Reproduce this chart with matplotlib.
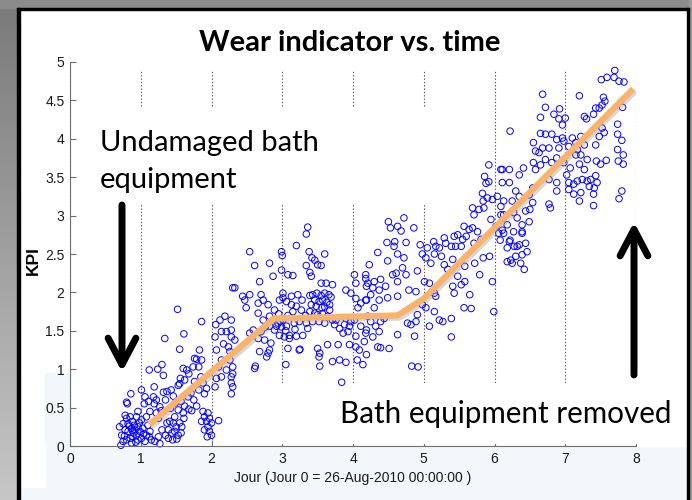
import numpy as np
import matplotlib
matplotlib.use('Agg')
import matplotlib.pyplot as plt
import matplotlib.transforms as mtransforms
import matplotlib.patheffects as pe
from matplotlib.patches import Rectangle
from matplotlib.colors import LinearSegmentedColormap

pts_start = [
    (0.72, 0.01), (0.73, 0.14), (0.70, 0.25), (0.75, 0.29), (0.80, 0.36), (0.85, 0.38),
    (0.88, 0.32), (0.78, 0.21), (0.82, 0.19), (0.87, 0.23), (0.92, 0.21), (0.96, 0.25),
    (0.99, 0.19), (0.94, 0.14), (0.89, 0.12), (0.85, 0.10), (0.80, 0.08), (0.87, 0.04),
    (1.01, 0.10), (1.06, 0.06), (1.08, 0.14), (1.03, 0.23), (1.10, 0.27), (1.01, 0.34),
    (0.94, 0.38), (0.96, 0.45), (0.78, 0.40), (1.08, 0.38), (1.13, 0.19), (1.15, 0.08),
    (0.91, 0.27), (0.96, 0.08), (0.82, 0.29), (0.75, 0.06), (0.90, 0.17), (0.84, 0.26),
    (0.98, 0.30), (1.04, 0.16), (0.93, 0.05), (0.77, 0.13), (1.12, 0.12), (0.88, 0.20),
    (0.86, 0.68), (0.81, 0.55), (0.80, 0.57),
]
pts_rise1 = [
    (1.06, 0.64), (1.11, 0.58), (1.05, 0.55), (1.18, 0.64), (1.19, 0.55), (1.22, 0.60),
    (1.32, 0.70), (1.37, 0.71), (1.35, 0.60), (1.27, 0.51), (1.29, 0.46), (1.13, 0.45),
    (1.22, 0.43), (1.19, 0.77), (1.01, 0.73), (1.25, 0.36),
    (1.37, 0.30), (1.41, 0.32), (1.46, 0.30), (1.50, 0.25), (1.55, 0.30), (1.58, 0.25),
    (1.39, 0.21), (1.44, 0.17), (1.48, 0.19), (1.53, 0.14), (1.57, 0.17), (1.39, 0.10),
    (1.45, 0.08), (1.51, 0.09), (1.35, 0.14), (1.30, 0.21), (1.25, 0.12), (1.20, 0.06),
    (1.27, 0.03), (1.61, 0.36), (1.48, 0.38),
    (1.46, 0.65), (1.49, 0.56), (1.42, 0.49), (1.53, 0.47), (1.57, 0.58), (1.62, 0.52),
    (1.60, 0.43), (1.68, 0.48), (1.72, 0.46), (1.79, 0.52), (1.75, 0.60), (1.67, 0.64),
    (1.71, 0.69), (1.82, 0.73), (1.88, 0.82), (1.85, 0.90), (1.76, 0.84), (1.60, 1.01),
    (1.65, 0.99), (1.56, 0.88), (1.62, 0.86), (1.55, 0.81), (1.53, 0.79), (1.68, 0.94),
    (1.74, 1.03), (1.79, 1.13), (1.86, 1.12), (1.82, 1.03), (1.76, 1.14), (1.83, 1.25),
    (1.55, 1.26), (1.61, 1.46), (1.34, 1.40), (1.52, 1.78), (1.86, 1.62), (1.12, 0.99),
    (1.24, 1.00), (1.30, 1.06), (1.32, 0.92), (1.43, 0.73), (1.93, 0.75), (1.90, 0.68),
    (1.88, 0.45), (1.95, 0.43), (1.90, 0.38), (1.97, 0.36), (1.93, 0.32), (2.00, 0.30),
    (1.95, 0.25), (1.90, 0.21), (1.97, 0.19), (2.00, 0.14), (1.94, 0.12), (2.10, 0.33),
    (1.86, 0.32),
    (2.30, 2.06), (2.19, 1.69), (2.28, 1.64), (2.12, 1.64), (2.06, 1.58), (2.14, 1.49),
    (2.21, 1.49), (2.28, 1.42), (2.05, 1.42), (2.17, 1.33), (2.24, 1.29), (2.07, 1.25),
    (2.14, 1.12), (2.26, 1.12), (2.21, 0.99), (2.28, 0.82), (2.14, 0.90), (2.10, 1.03),
    (2.07, 0.88), (2.05, 0.77), (2.30, 0.94), (2.28, 0.68),
]
pts_plateau = [
    (2.30, 1.03), (2.28, 0.90), (2.30, 0.77), (2.26, 1.23), (2.33, 1.38), (2.28, 1.51),
    (2.61, 1.01), (2.62, 1.04), (2.68, 1.23), (2.80, 1.21), (2.78, 1.16), (2.82, 1.25),
    (2.84, 1.34), (2.75, 1.38), (2.66, 1.40), (2.54, 1.47), (2.59, 1.51), (2.70, 1.49),
    (2.76, 1.55), (2.82, 1.56), (2.89, 1.51), (2.96, 1.44), (3.03, 1.42), (3.10, 1.40),
    (3.08, 1.27), (3.24, 1.25), (3.25, 1.26), (3.10, 1.44), (3.20, 1.43), (3.29, 1.44),
    (3.36, 1.53), (3.34, 1.60), (3.24, 1.62), (3.17, 1.60), (3.06, 1.56), (2.99, 1.55),
    (2.94, 1.60), (3.01, 1.64), (3.15, 1.75), (3.27, 1.77), (3.13, 1.84), (3.06, 1.88),
    (3.01, 1.99), (3.13, 1.95), (3.22, 1.97), (3.01, 1.93), (2.96, 1.90), (2.80, 1.84),
    (2.73, 1.90), (2.70, 1.97), (2.66, 1.86), (2.54, 1.97), (2.47, 1.90), (2.49, 1.80),
    (2.66, 1.73), (2.73, 1.64), (2.82, 1.69), (2.89, 1.77), (2.33, 2.06), (2.44, 1.95),
    (2.68, 2.14), (2.87, 2.21), (2.82, 2.38), (2.61, 2.35), (2.99, 2.29), (3.08, 2.23),
    (3.15, 2.22), (3.39, 2.26), (3.41, 2.21), (3.55, 2.12), (3.62, 2.12), (3.71, 2.10),
    (3.50, 2.36), (3.55, 2.35), (3.34, 2.35), (3.60, 2.50), (2.54, 2.53), (2.99, 2.53),
    (3.00, 2.48), (3.38, 2.53), (3.42, 2.45), (3.46, 2.42), (3.36, 2.85), (3.34, 2.76),
    (3.20, 2.61),
    (3.39, 1.96), (3.43, 1.97), (3.49, 1.99), (3.55, 1.96), (3.60, 1.99), (3.66, 1.97),
    (3.69, 1.94), (3.46, 1.90), (3.52, 1.88), (3.57, 1.90), (3.63, 1.87), (3.67, 1.84),
    (3.41, 1.84), (3.48, 1.82), (3.56, 1.80), (3.60, 1.81), (3.67, 1.77), (3.39, 1.75),
    (3.46, 1.73), (3.50, 1.71), (3.57, 1.72), (3.64, 1.69), (3.71, 1.64), (3.52, 1.62),
    (3.60, 1.60), (3.43, 1.62),
    (3.74, 1.58), (3.81, 1.53), (3.88, 1.58), (3.95, 1.56), (3.76, 1.64), (3.90, 1.66),
    (3.97, 1.62), (3.86, 1.47), (3.93, 1.49), (3.64, 1.32), (3.79, 1.32), (3.50, 1.27),
    (3.53, 1.21), (3.52, 1.16), (3.71, 1.10), (3.81, 1.12), (3.90, 1.09), (3.53, 1.04),
    (3.84, 0.83),
    (4.02, 2.23), (4.04, 2.12), (4.18, 2.18), (4.19, 2.08), (4.04, 1.92), (4.11, 1.86),
    (4.07, 1.80), (4.19, 1.90), (4.02, 1.64), (4.11, 1.56), (4.19, 1.51), (4.04, 1.43),
    (4.16, 1.36), (4.09, 1.25), (4.19, 1.19), (4.06, 1.12), (4.14, 1.06), (3.90, 2.03),
    (3.97, 1.99), (3.05, 1.06), (3.95, 1.32), (4.04, 1.29),
    (3.08, 1.70), (3.20, 1.82), (3.28, 1.90), (3.33, 1.70), (3.18, 1.52), (2.95, 1.72),
    (2.92, 1.56), (2.97, 1.62), (3.05, 1.50),
]
pts_rise2 = [
    (4.35, 2.52), (4.23, 2.36), (4.18, 2.23), (4.21, 2.12), (4.30, 2.14), (4.39, 2.17),
    (4.28, 2.06), (4.37, 2.03), (4.46, 2.08), (4.56, 2.23), (4.61, 2.25), (4.63, 2.14),
    (4.70, 2.32), (4.75, 2.23), (4.72, 2.45), (4.63, 2.50), (4.49, 2.41), (4.91, 2.28),
    (4.98, 2.50), (5.03, 2.45), (5.10, 2.38), (5.15, 2.50), (5.25, 2.47), (5.01, 2.14),
    (5.08, 2.12), (5.15, 1.99), (5.17, 1.95), (4.89, 2.01), (4.79, 2.03), (4.63, 1.95),
    (4.49, 1.93), (4.37, 1.90), (4.25, 1.97), (4.18, 1.90), (4.30, 1.80), (4.44, 1.66),
    (4.39, 1.62), (4.32, 1.56), (4.25, 1.62), (4.21, 1.69), (4.18, 1.47), (4.28, 1.42),
    (4.37, 1.49), (4.35, 1.29), (4.39, 1.28), (4.51, 1.27), (4.63, 1.45), (4.87, 1.43),
    (4.77, 1.60), (4.82, 1.58), (4.89, 1.62), (4.91, 1.71), (4.98, 1.84), (5.03, 1.80),
    (5.08, 1.56), (5.15, 1.75), (5.22, 1.64), (5.27, 1.62), (5.39, 1.66), (5.39, 1.42),
    (4.83, 1.04), (4.92, 1.03), (5.41, 2.08), (5.53, 2.10), (5.58, 2.14), (5.65, 1.97),
    (5.57, 1.80), (5.67, 1.79), (5.43, 1.99), (5.48, 2.21), (5.58, 2.34), (5.72, 2.38),
    (5.79, 2.23), (5.84, 2.45), (5.93, 2.47), (5.97, 2.14), (5.99, 1.75), (5.34, 2.30),
    (5.29, 2.36), (5.41, 2.43),
    (4.72, 2.97), (4.50, 2.92), (4.53, 2.84), (4.63, 2.86), (4.68, 2.80), (4.86, 2.84),
    (4.48, 2.65), (4.59, 2.66), (4.58, 2.60), (4.75, 2.65), (4.95, 2.62), (5.14, 2.66),
    (5.17, 2.60), (5.43, 2.73), (5.48, 2.75), (5.45, 2.60), (5.55, 2.69), (5.60, 2.73),
    (5.64, 2.82), (5.57, 2.86), (5.69, 2.84), (5.71, 3.01), (5.69, 3.10), (5.78, 3.08),
    (5.85, 3.10), (5.84, 3.19), (5.90, 3.23), (5.97, 3.21), (5.83, 3.29), (5.88, 3.42),
    (5.92, 3.44), (5.86, 3.51), (5.92, 3.66), (6.09, 3.60), (6.04, 3.25), (6.09, 3.12),
    (6.09, 3.01), (5.95, 2.95), (6.02, 2.86), (6.06, 2.77), (5.76, 2.79), (5.81, 2.69),
    (5.71, 2.64), (5.53, 2.60), (5.39, 2.60), (5.31, 2.64), (5.29, 2.71), (5.22, 2.58),
    (5.05, 2.58),
]
pts_end = [
    (7.70, 4.89), (7.59, 4.80), (7.51, 4.77), (7.69, 4.80), (7.76, 4.75), (7.83, 4.74),
    (6.68, 4.58), (7.20, 4.56), (7.54, 4.54), (7.56, 4.49), (7.52, 4.44), (7.81, 4.41),
    (6.72, 4.41), (6.92, 4.39), (6.84, 4.32), (6.65, 4.28), (6.91, 4.26), (6.96, 4.18),
    (7.00, 4.27), (7.27, 4.29), (7.30, 4.26), (7.40, 4.32), (7.48, 4.40), (7.43, 4.40),
    (6.22, 4.10), (6.65, 4.07), (6.72, 4.06), (6.81, 4.06), (6.55, 3.95), (6.68, 3.88),
    (6.58, 3.84), (6.63, 3.82), (6.77, 3.88), (6.88, 3.99), (6.96, 4.01), (7.10, 4.01),
    (7.15, 3.95), (7.22, 4.03), (7.27, 3.92), (7.17, 3.86), (7.48, 4.03), (7.52, 4.14),
    (7.55, 4.08), (7.43, 3.92), (7.74, 4.19), (7.74, 4.06), (7.80, 3.98), (7.74, 3.86),
    (7.82, 3.79), (7.75, 3.71), (7.82, 3.67), (7.80, 3.32), (7.76, 3.22), (6.98, 3.97),
    (6.91, 3.88), (7.05, 3.90), (7.15, 3.79), (7.22, 3.79), (7.31, 3.73), (7.44, 3.71),
    (7.50, 3.67), (7.58, 3.72), (7.20, 3.67), (7.27, 3.60), (7.07, 3.62), (6.98, 3.69),
    (6.88, 3.75), (6.81, 3.69), (6.72, 3.73), (6.55, 3.69), (6.41, 3.62), (6.35, 3.53),
    (6.21, 3.60), (6.11, 3.60), (6.21, 3.43), (6.11, 3.43), (6.30, 3.32), (6.35, 3.25),
    (6.25, 3.19), (6.13, 3.19), (6.54, 3.36), (6.49, 3.27), (6.54, 3.17), (6.44, 3.06),
    (6.50, 3.08), (6.77, 3.47), (6.88, 3.43), (7.02, 3.53), (7.05, 3.43), (7.12, 3.41),
    (7.17, 3.45), (7.24, 3.47), (7.31, 3.45), (7.36, 3.47), (7.43, 3.52), (7.34, 3.38),
    (7.41, 3.36), (7.45, 3.43), (7.05, 3.34), (7.12, 3.28), (7.20, 3.19), (7.22, 3.30),
    (7.40, 3.13), (7.40, 3.28), (6.88, 3.32), (6.79, 3.10), (6.77, 3.15), (6.65, 3.66),
    (6.58, 3.60), (6.27, 3.04), (6.39, 2.88), (6.32, 2.97), (6.18, 2.88), (6.27, 2.79),
    (6.39, 2.79), (6.49, 2.92), (6.22, 2.68), (6.32, 2.60), (6.44, 2.64), (6.18, 2.58),
    (6.13, 3.01), (6.11, 2.81), (6.08, 2.68),
    (6.13, 2.77), (6.21, 2.66), (6.28, 2.60), (6.35, 2.62), (6.46, 2.53), (6.39, 2.49),
    (6.30, 2.47), (6.23, 2.42), (6.18, 2.40), (6.37, 2.38), (6.42, 2.30), (6.25, 2.38),
    (6.39, 2.77),
]

# piecewise trend drawn on the slide
fit_day = [1.12, 2.88, 4.63, 5.00, 7.96]
fit_kpi = [0.28, 1.66, 1.70, 1.92, 4.65]

x_ticks = [0, 1, 2, 3, 4, 5, 6, 7, 8]
y_ticks = [0, 0.5, 1, 1.5, 2, 2.5, 3, 3.5, 4, 4.5, 5]

data = np.array(pts_start + pts_rise1 + pts_plateau + pts_rise2 + pts_end)
day, kpi = data[:, 0], data[:, 1]

W, H = 692, 500
slide_blue = '#f1f7fa'
fig = plt.figure(figsize=(W / 100, H / 100), dpi=100, facecolor=slide_blue)

# slide frame in pixel units
bg = fig.add_axes([0, 0, 1, 1], zorder=0)
bg.set_xlim(0, W)
bg.set_ylim(H, 0)
bg.axis('off')
gray = LinearSegmentedColormap.from_list('g', ['#7a7a7a', '#c6c6c6'])
bg.imshow(np.linspace(0, 1, 100).reshape(-1, 1), cmap=gray, aspect='auto',
          extent=(0, 17, H, 0), origin='upper')
bg.add_patch(Rectangle((0, 0), W, 8, color='#8b8b8b'))
bg.add_patch(Rectangle((689, 0), 3, H, color='#9b9b9b'))
bg.add_patch(Rectangle((20, 10), 667, 436, color='white'))
bg.add_patch(Rectangle((45, 373), 25, 73, color=slide_blue))
bg.add_patch(Rectangle((20, 446), 25, 41, color='white'))
bg.add_patch(Rectangle((17, 8), 3, H - 8, color='black'))
bg.add_patch(Rectangle((17, 8), 672, 2, color='black'))
bg.add_patch(Rectangle((687, 8), 2, H - 8, color='black'))

ax = fig.add_axes([70 / W, 1 - 446 / H, 566 / W, 384 / H], zorder=1)
ax.patch.set_alpha(0)
# pixel coords with y pointing down
T = mtransforms.Affine2D().scale(1 / W, -1 / H).translate(0, 1) + fig.transFigure

ax.set_xlim(0, 8)
ax.set_ylim(0, 5)
ax.set_xticks(x_ticks)
ax.set_yticks(y_ticks)
ax.set_yticklabels(['%g' % v for v in y_ticks])
for s in ['top', 'right']:
    ax.spines[s].set_visible(False)
for s in ['left', 'bottom']:
    ax.spines[s].set_color('#6e6e6e')
    ax.spines[s].set_linewidth(0.8)
ax.tick_params(direction='in', length=4, width=0.8, color='#6e6e6e',
               labelsize=10, labelcolor='#1a1a1a', pad=4)
for lab in ax.get_xticklabels() + ax.get_yticklabels():
    lab.set_family('Liberation Sans')
ax.set_axisbelow(True)
ax.xaxis.grid(True, linestyle=(0, (1.2, 1.8)), color='#505050', linewidth=0.8)

# white text boxes of the slide hide parts of the grid
for (bx, by, bw, bh) in [(120, 14, 470, 56), (88, 108, 377, 97), (250, 383, 436, 61)]:
    ax.add_patch(Rectangle((bx, by), bw, bh, transform=T, facecolor='white',
                           edgecolor='none', zorder=1.5, clip_on=False))

ax.scatter(day, kpi, s=22, facecolors='none', edgecolors='#0000ff',
           linewidths=0.7, zorder=2, clip_on=False)
ax.plot(fit_day, fit_kpi, color='#f8b36d', linewidth=4.5, solid_capstyle='butt',
        zorder=3, path_effects=[pe.SimpleLineShadow(offset=(1.5, -1.5), shadow_color='#909090', alpha=0.35),
                                pe.Normal()])

ax.set_xlabel('Jour (Jour 0 = 26-Aug-2010 00:00:00 )', family='Liberation Sans',
              fontsize=10, color='#1a1a1a', labelpad=4)
ax.set_ylabel('KPI', family='Liberation Sans', fontsize=12.5, fontweight='bold')
ax.yaxis.set_label_coords(-0.051, 0.484)

ax.text(350, 51, 'Wear indicator vs. time', transform=T, ha='center', va='baseline',
        family='Lato', fontweight='bold', fontsize=21, zorder=4)
ax.text(100, 151, 'Undamaged bath', transform=T, ha='left', va='baseline',
        family='Lato', fontsize=21, zorder=4)
ax.text(100, 188, 'equipment', transform=T, ha='left', va='baseline',
        family='Lato', fontsize=21, zorder=4)
ax.text(340, 423, 'Bath equipment removed', transform=T, ha='left', va='baseline',
        family='Lato', fontsize=21.3, zorder=4)

arrow = dict(arrowstyle='->,head_length=0.95,head_width=0.5', color='black',
             linewidth=5, mutation_scale=20, shrinkA=0, shrinkB=0)
ax.annotate('', xy=(122, 372), xytext=(122, 205), xycoords=T, textcoords=T,
            arrowprops=arrow, zorder=4, annotation_clip=False)
ax.annotate('', xy=(634, 222), xytext=(634, 375), xycoords=T, textcoords=T,
            arrowprops=arrow, zorder=4, annotation_clip=False)

fig.savefig('out.png', dpi=100, facecolor=fig.get_facecolor())
